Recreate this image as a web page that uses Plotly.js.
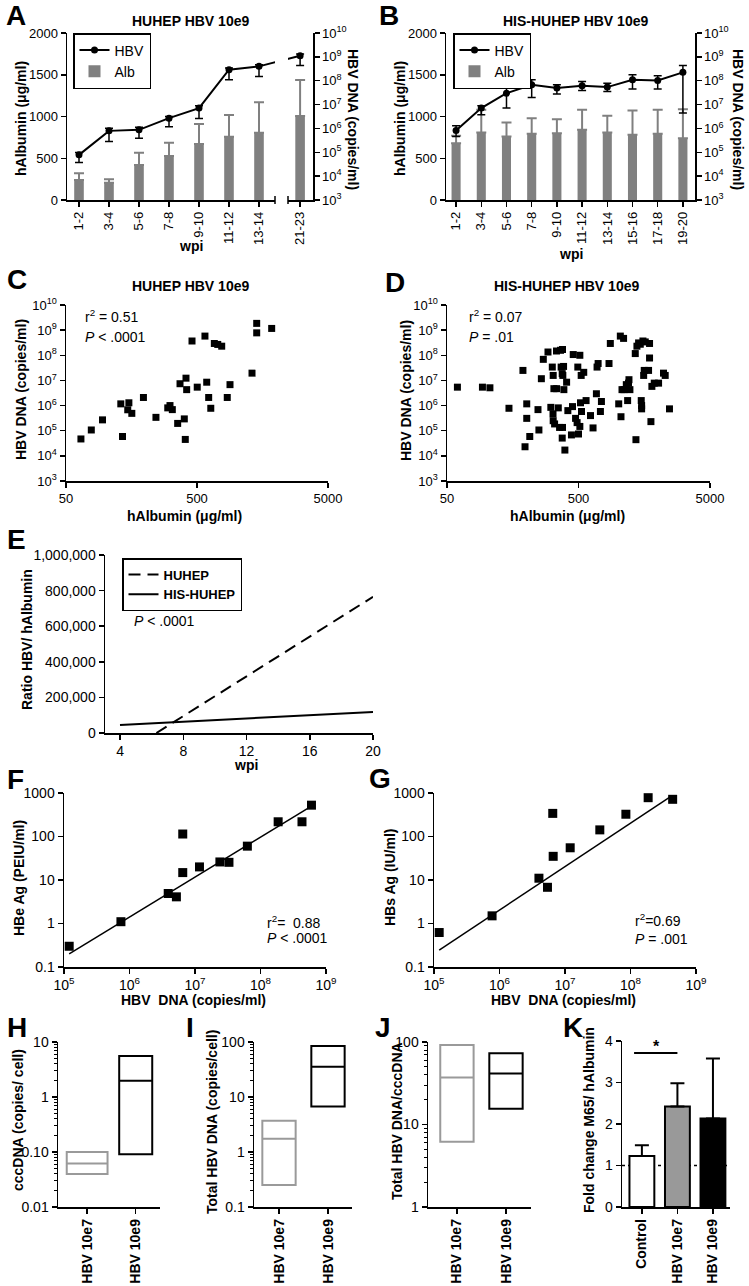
<!DOCTYPE html>
<html><head><meta charset="utf-8">
<script src="https://cdn.plot.ly/plotly-3.0.1.min.js"></script>
<style>html,body{margin:0;padding:0;background:#fff}</style>
</head><body><div id="chart" style="width:749px;height:1286px"></div>
<script>
// ---------------- DATA ----------------
// Panel A: HUHEP HBV 10e9
const aCats = ['1-2','3-4','5-6','7-8','9-10','11-12','13-14','21-23'];
const aAlb = [240, 207, 419, 527, 671, 758, 806, 1006];
const aAlbErr = [80, 41, 147, 159, 239, 260, 364, 431];
const aHBV = [7.8e4, 7.9e5, 8.7e5, 2.7e6, 7.1e6, 2.9e8, 4.0e8, 1.12e9];
const aHBVHi = [9.8e4, 1.02e6, 1.12e6, 3.16e6, 8.9e6, 3.4e8, 4.7e8, 1.32e9];
const aHBVLo = [3.7e4, 2.8e5, 3.9e5, 1.17e6, 2.6e6, 1.1e8, 1.5e8, 4.3e8];
// Panel B: HIS-HUHEP HBV 10e9
const bCats = ['1-2','3-4','5-6','7-8','9-10','11-12','13-14','15-16','17-18','19-20'];
const bAlb = [680, 808, 760, 792, 800, 840, 808, 780, 792, 740];
const bAlbErr = [90, 272, 168, 188, 168, 240, 200, 292, 288, 348];
const bHBV = [8.1e5, 7.1e6, 3.0e7, 6.8e7, 4.9e7, 6.2e7, 5.4e7, 1.1e8, 1.02e8, 2.24e8];
const bHBVHi = [1.29e6, 8.9e6, 4.9e7, 1.1e8, 6.8e7, 9.3e7, 7.9e7, 1.78e8, 1.62e8, 4.3e8];
const bHBVLo = [4.6e5, 3.7e6, 7.1e6, 2.0e7, 2.75e7, 3.9e7, 3.5e7, 4.5e7, 4.5e7, 4.4e6];
// Panel C: HUHEP scatter (hAlbumin ug/ml vs HBV DNA copies/ml)
const cAlb = [65,78,95,135,131,151,148,159,195,243,299,311,324,356,400,407,371,412,417,458,502,575,593,614,637,678,720,772,851,893,1315,1428,1428,1858];
const cHBV = [4.7e4,1.07e5,2.7e5,5.9e4,1.17e6,1.29e6,6.8e5,4.9e5,2.1e6,3.4e5,8.1e5,1.0e6,6.9e5,1.95e5,2.95e5,4.5e4,7.4e6,1.23e7,4.3e6,3.7e8,5.4e6,5.8e8,8.5e6,2.1e6,7.8e5,2.95e8,2.7e8,2.3e8,2.1e6,6.8e6,1.95e7,1.86e9,7.8e8,1.17e9];
// Panel D: HIS-HUHEP scatter
const dAlb = [60,93,106,148,189,202,202,213,196,246,250,261,270,293,308,316,321,325,320,321,329,340,341,351,359,365,369,376,378,385,387,376,394,378,442,450,456,475,488,512,512,494,524,527,518,548,571,645,692,705,684,734,747,853,873,1011,1052,1040,1101,1071,1109,1155,1210,1182,1200,1230,1367,1351,1391,1432,1475,1545,1609,1735,1500,1510,1510,1581,1565,1735,1705,1777,1807,1884,2032,2215,2282,2459,406,380,415,500,617];
const dHBV = [5.4e6,5.4e6,5.1e6,7.8e5,2.5e7,1.17e6,3.1e5,5.9e4,2.3e4,6.9e5,1.07e5,1.17e7,6.9e7,1.35e8,8.5e5,3.4e7,1.58e7,4.7e6,4.7e5,2.5e5,1.86e5,1.48e8,4.7e6,8.1e5,1.35e5,1.58e8,3.4e7,1.86e7,1.7e8,3.6e7,4.3e6,5.1e4,1.7e4,1.35e5,6.8e4,9.1e5,1.07e8,3.1e5,2.1e5,1.48e5,1.0e8,3.4e7,1.58e7,5.8e5,1.29e6,2.1e7,1.58e6,1.29e5,3.4e7,4.7e7,2.95e6,5.8e5,1.45e6,4.7e7,2.95e8,1.17e6,3.6e5,5.8e8,4.7e8,4.3e6,4.3e6,6.8e6,1.07e7,1.58e6,7.8e6,4.3e6,4.4e4,1.17e8,2.3e8,3.1e8,2.75e8,3.7e8,3.4e8,2.95e8,1.58e6,1.0e6,7.4e5,2.5e7,1.58e7,7.8e7,2.5e7,2.3e5,5.8e6,7.8e6,7.8e6,1.95e7,1.58e7,7.4e5,8.5e6,1.58e7,6.3e5,7.4e4,4.0e5];
// Panel E: regression of ratio HBV/hAlbumin over wpi
const eHuWpi = [6.3, 20];
const eHuRatio = [0, 765000];
const eHisWpi = [4, 20];
const eHisRatio = [45000, 118000];
// Panel F: HBeAg vs HBV DNA
const fDNA = [1.2e5,7.4e5,3.9e6,5.2e6,6.5e6,6.5e6,1.17e7,2.4e7,3.3e7,6.3e7,1.86e8,4.3e8,6.0e8];
const fHBe = [0.30,1.1,4.9,4.1,14.8,114,20,26,25.5,60,218,218,525];
const fFitDNA = [1.2e5, 6.0e8];
const fFitHBe = [0.2, 500];
// Panel G: HBsAg vs HBV DNA
const gDNA = [1.2e5,7.7e5,4.0e6,5.4e6,6.5e6,6.6e6,1.2e7,3.4e7,8.5e7,1.86e8,4.4e8];
const gHBs = [0.62,1.5,11,6.8,340,35,55,142,325,780,716];
const gFitDNA = [1.2e5, 4.2e8];
const gFitHBs = [0.245, 850];
// Panels H, I, J: min / median / max per group
const grpCats = ['HBV 10e7','HBV 10e9'];
const hMin = [0.04, 0.091], hMed = [0.062, 1.98], hMax = [0.10, 5.56];
const iMin = [0.25, 6.7], iMed = [1.75, 35.5], iMax = [3.7, 84.6];
const jMin = [6.2, 15.5], jMed = [37, 41.6], jMax = [92, 73];
// Panel K
const kCats = ['Control','HBV 10e7','HBV 10e9'];
const kFold = [1.23, 2.42, 2.13];
const kErr = [0.26, 0.56, 1.45];
const kSigY = 3.71;

// ---------------- LAYOUT HELPERS ----------------
const FONT = '"Liberation Sans", Arial, Helvetica, sans-serif';
const W = 749, H = 1286;
const xd = (a, b) => [a / W, b / W];
const yd = (t, b) => [1 - b / H, 1 - t / H];
const decades = (a, b) => { const v = []; for (let e = a; e <= b; e++) v.push(Math.pow(10, e)); return v; };
const supText = (a, b) => decades(a, b).map(v => '10<sup>' + Math.round(Math.log10(v)) + '</sup>');
const A_GAP = 0.37;
const aPos = aCats.map((c, i) => i < 7 ? i : i + A_GAP);
const bPos = bCats.map((c, i) => i);
const GREY = '#808080', BOXGREY = '#9a9a9a';

function axis(extra) {
  return Object.assign({
    showgrid: false, zeroline: false, showline: true, linecolor: '#000', linewidth: 1.5,
    ticks: 'outside', ticklen: 5, tickwidth: 1.5, tickcolor: '#000',
    tickfont: {family: FONT, size: 13, color: '#000'}, fixedrange: true, automargin: false
  }, extra);
}
const minorLog = {ticks: 'outside', ticklen: 3, tickwidth: 1, tickcolor: '#000', dtick: 'D1', showgrid: false};
function txt(text, x, y, opts) {
  const o = Object.assign({text: text, x: x / W, y: 1 - y / H, xref: 'paper', yref: 'paper', showarrow: false,
    xanchor: 'center', yanchor: 'middle', font: {family: FONT, size: 14, color: '#000'}}, opts || {});
  return o;
}
const bold = (s) => ({family: FONT, size: s, color: '#000', weight: 700});
const reg = (s) => ({family: FONT, size: s, color: '#000'});

// ---------------- TRACES ----------------
const traces = [];
// A
traces.push({type: 'bar', name: 'Alb', x: aPos, y: aAlb, xaxis: 'x', yaxis: 'y', width: 0.32,
  marker: {color: GREY}, legend: 'legend', legendrank: 2,
  error_y: {type: 'data', symmetric: false, array: aAlbErr, arrayminus: aAlbErr.map(() => 0), color: GREY, thickness: 2, width: 5}});
traces.push({type: 'scatter', mode: 'lines+markers', name: 'HBV', x: aPos, y: aHBV, xaxis: 'x', yaxis: 'y2',
  line: {color: '#000', width: 2}, marker: {color: '#000', size: 7, symbol: 'circle'}, legend: 'legend', legendrank: 1,
  error_y: {type: 'data', symmetric: false, array: aHBV.map((v, i) => aHBVHi[i] - v), arrayminus: aHBV.map((v, i) => v - aHBVLo[i]), color: '#000', thickness: 1.5, width: 4}});
// B
traces.push({type: 'bar', name: 'Alb', x: bPos, y: bAlb, xaxis: 'x2', yaxis: 'y3', width: 0.36,
  marker: {color: GREY}, legend: 'legend2', legendrank: 2,
  error_y: {type: 'data', symmetric: false, array: bAlbErr, arrayminus: bAlbErr.map(() => 0), color: GREY, thickness: 2, width: 5}});
traces.push({type: 'scatter', mode: 'lines+markers', name: 'HBV', x: bPos, y: bHBV, xaxis: 'x2', yaxis: 'y4',
  line: {color: '#000', width: 2}, marker: {color: '#000', size: 7, symbol: 'circle'}, legend: 'legend2', legendrank: 1,
  error_y: {type: 'data', symmetric: false, array: bHBV.map((v, i) => bHBVHi[i] - v), arrayminus: bHBV.map((v, i) => v - bHBVLo[i]), color: '#000', thickness: 1.5, width: 4}});
// C, D
traces.push({type: 'scatter', mode: 'markers', x: cAlb, y: cHBV, xaxis: 'x3', yaxis: 'y5', showlegend: false,
  marker: {symbol: 'square', size: 7, color: '#000'}});
traces.push({type: 'scatter', mode: 'markers', x: dAlb, y: dHBV, xaxis: 'x4', yaxis: 'y6', showlegend: false,
  marker: {symbol: 'square', size: 7, color: '#000'}});
// E
traces.push({type: 'scatter', mode: 'lines', name: '<b>HUHEP</b>', x: eHuWpi, y: eHuRatio, xaxis: 'x5', yaxis: 'y7',
  line: {color: '#000', width: 2, dash: '12px,7px'}, legend: 'legend3'});
traces.push({type: 'scatter', mode: 'lines', name: '<b>HIS-HUHEP</b>', x: eHisWpi, y: eHisRatio, xaxis: 'x5', yaxis: 'y7',
  line: {color: '#000', width: 2}, legend: 'legend3'});
// F
traces.push({type: 'scatter', mode: 'lines', x: fFitDNA, y: fFitHBe, xaxis: 'x6', yaxis: 'y8', showlegend: false, line: {color: '#000', width: 1.5}});
traces.push({type: 'scatter', mode: 'markers', x: fDNA, y: fHBe, xaxis: 'x6', yaxis: 'y8', showlegend: false, marker: {symbol: 'square', size: 9, color: '#000'}});
// G
traces.push({type: 'scatter', mode: 'lines', x: gFitDNA, y: gFitHBs, xaxis: 'x7', yaxis: 'y9', showlegend: false, line: {color: '#000', width: 1.5}});
traces.push({type: 'scatter', mode: 'markers', x: gDNA, y: gHBs, xaxis: 'x7', yaxis: 'y9', showlegend: false, marker: {symbol: 'square', size: 9, color: '#000'}});
// H, I, J floating boxes (min-max with median line)
function boxes(mins, meds, maxs, xa, ya, widths) {
  const cols = [BOXGREY, '#000'];
  mins.forEach((m, i) => {
    traces.push({type: 'box', orientation: 'v', x: [i], q1: [mins[i]], median: [meds[i]], q3: [maxs[i]],
      lowerfence: [mins[i]], upperfence: [maxs[i]], xaxis: xa, yaxis: ya, width: widths[i], whiskerwidth: 0,
      line: {color: cols[i], width: 2}, fillcolor: 'rgba(255,255,255,0)', boxpoints: false, showlegend: false, hoverinfo: 'skip'});
  });
}
boxes(hMin, hMed, hMax, 'x8', 'y10', [0.84, 0.68]);
boxes(iMin, iMed, iMax, 'x9', 'y11', [0.68, 0.68]);
boxes(jMin, jMed, jMax, 'x10', 'y12', [0.68, 0.68]);
// K
traces.push({type: 'bar', x: kCats.map((c, i) => i), y: kFold, xaxis: 'x11', yaxis: 'y13', width: 0.7, showlegend: false,
  marker: {color: ['#ffffff', '#999999', '#000000'], line: {color: '#000', width: 2}},
  error_y: {type: 'data', symmetric: false, array: kErr, arrayminus: kErr.map(() => 0), color: '#000', thickness: 2, width: 7}});

// ---------------- LAYOUT ----------------
const legBase = {xanchor: 'left', yanchor: 'top', bordercolor: '#000', borderwidth: 1.5, bgcolor: '#fff',
  font: reg(14), tracegroupgap: 0, traceorder: 'normal'};
const layout = {
  width: W, height: H, margin: {l: 0, r: 0, t: 0, b: 0}, autosize: false,
  paper_bgcolor: '#fff', plot_bgcolor: 'rgba(0,0,0,0)', font: {family: FONT, color: '#000'},
  barmode: 'overlay', boxmode: 'overlay', showlegend: true, hovermode: false,
  legend: Object.assign({}, legBase, {x: 73 / W, y: 1 - 33 / H, itemwidth: 30}),
  legend2: Object.assign({}, legBase, {x: 453 / W, y: 1 - 33 / H, itemwidth: 30}),
  legend3: Object.assign({}, legBase, {x: 122 / W, y: 1 - 558 / H, font: reg(13)}),
  // A
  xaxis: axis({domain: xd(67, 313), anchor: 'y', range: [-0.4, 7.8], tickvals: aPos, ticktext: aCats, tickangle: -90}),
  yaxis: axis({domain: yd(33, 200), anchor: 'x', range: [0, 2000], tickvals: [0, 500, 1000, 1500, 2000]}),
  yaxis2: axis({anchor: 'x', overlaying: 'y', side: 'right', type: 'log', range: [3, 10], tickvals: decades(3, 10), ticktext: supText(3, 10)}),
  // B
  xaxis2: axis({domain: xd(446, 695), anchor: 'y3', range: [-0.4, 9.48], tickvals: bPos, ticktext: bCats, tickangle: -90}),
  yaxis3: axis({domain: yd(33, 200), anchor: 'x2', range: [0, 2000], tickvals: [0, 500, 1000, 1500, 2000]}),
  yaxis4: axis({anchor: 'x2', overlaying: 'y3', side: 'right', type: 'log', range: [3, 10], tickvals: decades(3, 10), ticktext: supText(3, 10)}),
  // C
  xaxis3: axis({domain: xd(66, 328), anchor: 'y5', type: 'log', range: [Math.log10(50), Math.log10(5000)], tickvals: [50, 500, 5000], ticktext: ['50', '500', '5000']}),
  yaxis5: axis({domain: yd(305, 481), anchor: 'x3', type: 'log', range: [3, 10], tickvals: decades(3, 10), ticktext: supText(3, 10)}),
  // D
  xaxis4: axis({domain: xd(447, 710), anchor: 'y6', type: 'log', range: [Math.log10(50), Math.log10(5000)], tickvals: [50, 500, 5000], ticktext: ['50', '500', '5000']}),
  yaxis6: axis({domain: yd(305, 481), anchor: 'x4', type: 'log', range: [3, 10], tickvals: decades(3, 10), ticktext: supText(3, 10)}),
  // E
  xaxis5: axis({domain: xd(105, 373), anchor: 'y7', range: [3.05, 20], tickvals: [4, 8, 12, 16, 20], tickfont: reg(14)}),
  yaxis7: axis({domain: yd(555, 733), anchor: 'x5', range: [0, 1000000], tickvals: [0, 200000, 400000, 600000, 800000, 1000000], tickformat: ',', tickfont: reg(14)}),
  // F
  xaxis6: axis({domain: xd(64, 326), anchor: 'y8', type: 'log', range: [5, 9], tickvals: decades(5, 9), ticktext: supText(5, 9), tickfont: reg(14)}),
  yaxis8: axis({domain: yd(793, 967), anchor: 'x6', type: 'log', range: [-1, 3], tickvals: [0.1, 1, 10, 100, 1000], ticktext: ['0.1', '1', '10', '100', '1000'], tickfont: reg(14)}),
  // G
  xaxis7: axis({domain: xd(434, 696), anchor: 'y9', type: 'log', range: [5, 9], tickvals: decades(5, 9), ticktext: supText(5, 9), tickfont: reg(14)}),
  yaxis9: axis({domain: yd(793, 967), anchor: 'x7', type: 'log', range: [-1, 3], tickvals: [0.1, 1, 10, 100, 1000], ticktext: ['0.1', '1', '10', '100', '1000'], tickfont: reg(14)}),
  // H
  xaxis8: axis({domain: xd(58, 160), anchor: 'y10', range: [-0.6, 1.5], tickvals: [0, 1], ticktext: grpCats, tickangle: -90, tickfont: bold(14)}),
  yaxis10: axis({domain: yd(1042, 1207), anchor: 'x8', type: 'log', range: [-2, 1], tickvals: [0.01, 0.1, 1, 10], ticktext: ['0.01', '0.10', '1', '10'], tickfont: reg(14), minor: minorLog}),
  // I
  xaxis9: axis({domain: xd(254, 352), anchor: 'y11', range: [-0.51, 1.49], tickvals: [0, 1], ticktext: grpCats, tickangle: -90, tickfont: bold(14)}),
  yaxis11: axis({domain: yd(1042, 1207), anchor: 'x9', type: 'log', range: [-1, 2], tickvals: [0.1, 1, 10, 100], ticktext: ['0.1', '1', '10', '100'], tickfont: reg(14), minor: minorLog}),
  // J
  xaxis10: axis({domain: xd(428, 531), anchor: 'y12', range: [-0.59, 1.51], tickvals: [0, 1], ticktext: grpCats, tickangle: -90, tickfont: bold(14)}),
  yaxis12: axis({domain: yd(1042, 1207), anchor: 'x10', type: 'log', range: [0, 2], tickvals: [1, 10, 100], ticktext: ['1', '10', '100'], tickfont: reg(14), minor: minorLog}),
  // K
  xaxis11: axis({domain: xd(622, 730), anchor: 'y13', range: [-0.56, 2.48], tickvals: [0, 1, 2], ticktext: kCats, tickangle: -90, tickfont: bold(14)}),
  yaxis13: axis({domain: yd(1041, 1207), anchor: 'x11', range: [0, 4], tickvals: [0, 1, 2, 3, 4], tickfont: reg(14)}),
  shapes: [
    // axis break in panel A
    {type: 'rect', xref: 'paper', yref: 'paper', x0: 275 / W, x1: 288 / W, y0: 1 - 204 / H, y1: 1 - 40 / H, fillcolor: '#fff', line: {width: 0}, layer: 'above'},
    {type: 'line', xref: 'paper', yref: 'paper', x0: 275 / W, x1: 275 / W, y0: 1 - 196 / H, y1: 1 - 204 / H, line: {color: '#000', width: 1.5}, layer: 'above'},
    {type: 'line', xref: 'paper', yref: 'paper', x0: 288 / W, x1: 288 / W, y0: 1 - 196 / H, y1: 1 - 204 / H, line: {color: '#000', width: 1.5}, layer: 'above'},
    // K reference and significance
    {type: 'line', xref: 'x11 domain', x0: 0, x1: 1, yref: 'y13', y0: 1, y1: 1, line: {color: '#000', width: 1.5, dash: 'dot'}, layer: 'below'},
    {type: 'line', xref: 'x11', x0: -0.22, x1: 1, yref: 'y13', y0: kSigY, y1: kSigY, line: {color: '#000', width: 2}}
  ],
  annotations: [
    // panel letters
    txt('A', 16, 15, {font: bold(28)}), txt('B', 389, 15, {font: bold(28)}),
    txt('C', 17, 279, {font: bold(28)}), txt('D', 395, 282, {font: bold(28)}),
    txt('E', 16, 539, {font: bold(28)}), txt('F', 15, 780, {font: bold(28)}),
    txt('G', 380, 778, {font: bold(28)}), txt('H', 17, 1027, {font: bold(28)}),
    txt('I', 190, 1027, {font: bold(28)}), txt('J', 383, 1027, {font: bold(28)}),
    txt('K', 573, 1027, {font: bold(28)}),
    // titles
    txt('HUHEP HBV 10e9', 190, 21, {font: bold(14)}),
    txt('HIS-HUHEP HBV 10e9', 575, 21, {font: bold(14)}),
    txt('HUHEP HBV 10e9', 190, 286, {font: bold(14)}),
    txt('HIS-HUHEP HBV 10e9', 566, 286, {font: bold(14)}),
    // A axis titles
    txt('hAlbumin (μg/ml)', 21, 119, {font: bold(14), textangle: -90}),
    txt('HBV DNA (copies/ml)', 353, 119, {font: bold(14), textangle: 90}),
    txt('wpi', 191, 246, {font: bold(14)}),
    // B axis titles
    txt('hAlbumin (μg/ml)', 400, 119, {font: bold(14), textangle: -90}),
    txt('HBV DNA (copies/ml)', 738, 119, {font: bold(14), textangle: 90}),
    txt('wpi', 571, 254, {font: bold(14)}),
    // C
    txt('HBV DNA (copies/ml)', 21, 390, {font: bold(14), textangle: -90}),
    txt('hAlbumin (μg/ml)', 184, 516, {font: bold(14)}),
    txt('r<sup>2</sup> = 0.51', 83, 316, {xanchor: 'left'}),
    txt('<i>P</i> < .0001', 83, 337, {xanchor: 'left'}),
    // D
    txt('HBV DNA (copies/ml)', 406, 390, {font: bold(14), textangle: -90}),
    txt('hAlbumin (μg/ml)', 567, 516, {font: bold(14)}),
    txt('r<sup>2</sup> = 0.07', 467, 316, {xanchor: 'left'}),
    txt('<i>P</i> = .01', 467, 337, {xanchor: 'left'}),
    // E
    txt('Ratio HBV/ hAlbumin', 27, 640, {font: bold(14), textangle: -90}),
    txt('wpi', 246, 765, {font: bold(14)}),
    txt('<i>P</i> < .0001', 132, 621, {xanchor: 'left'}),
    // F
    txt('HBe Ag (PEIU/ml)', 19, 878, {font: bold(14), textangle: -90}),
    txt('HBV  DNA (copies/ml)', 193, 1000, {font: bold(14)}),
    txt('r<sup>2</sup>=  0.88', 265, 922, {xanchor: 'left'}),
    txt('<i>P</i> < .0001', 265, 938, {xanchor: 'left'}),
    // G
    txt('HBs Ag (IU/ml)', 390, 878, {font: bold(14), textangle: -90}),
    txt('HBV  DNA (copies/ml)', 563, 1000, {font: bold(14)}),
    txt('r<sup>2</sup>=0.69', 633, 920, {xanchor: 'left'}),
    txt('<i>P</i> = .001', 633, 939, {xanchor: 'left'}),
    // H-K
    txt('cccDNA (copies/ cell)', 18, 1120, {font: bold(14), textangle: -90}),
    txt('Total HBV DNA (copies/cell)', 212, 1122, {font: bold(14), textangle: -90}),
    txt('Total HBV DNA/cccDNA', 397, 1121, {font: bold(14), textangle: -90}),
    txt('Fold change M65/ hAlbumin', 589, 1120, {font: bold(14), textangle: -90}),
    txt('*', 656, 1046, {font: bold(16)})
  ]
};

Plotly.newPlot('chart', traces, layout, {displayModeBar: false, staticPlot: true});
</script>
</body></html>
